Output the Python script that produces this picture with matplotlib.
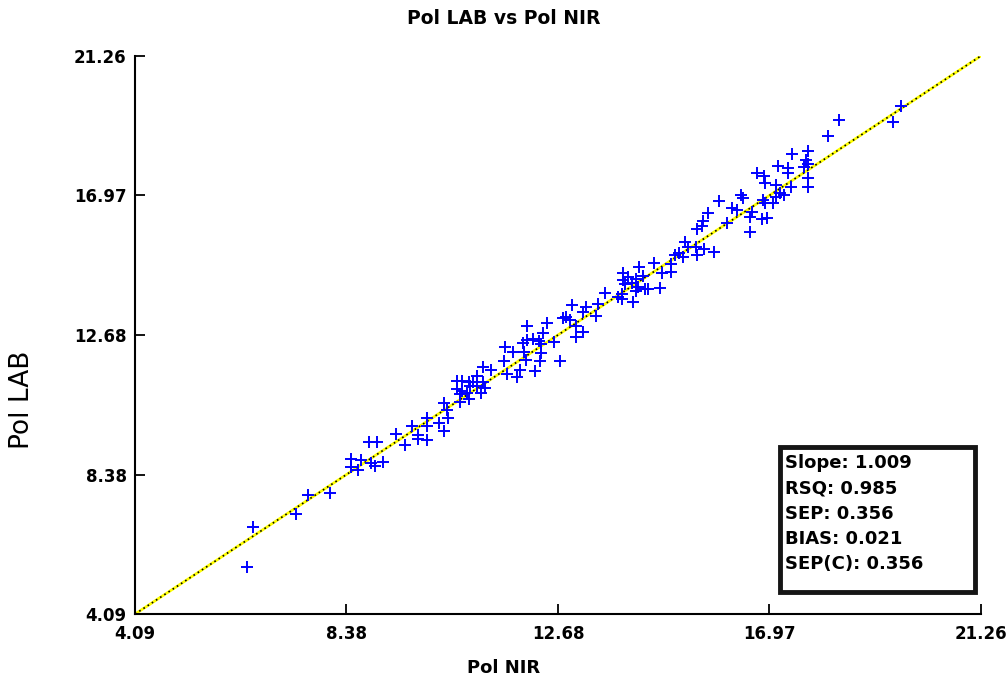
import numpy as np
import matplotlib
matplotlib.use("Agg")
import matplotlib.pyplot as plt
from matplotlib.patches import Rectangle

# Pol NIR (x) vs Pol LAB (y)
pol_nir = [
    6.37, 6.49, 7.36, 7.61, 8.05, 8.47, 8.47, 8.68, 8.62, 8.83, 9.00, 8.89,
    8.96, 9.13, 9.38, 9.57, 9.72, 9.83, 9.83, 10.01, 10.02, 10.27, 10.37,
    12.97, 13.24, 13.19, 13.48, 13.44, 12.83, 12.78, 12.92, 13.04, 13.19,
    13.04, 12.05, 12.46, 12.37, 12.05, 12.17, 12.29, 11.97, 12.34, 12.59,
    11.60, 11.77, 11.99, 12.34, 12.32, 12.72, 12.03, 11.57, 11.15, 11.32,
    11.65, 11.90, 11.85, 12.21, 11.03, 10.62, 10.72, 10.86, 10.96, 11.16,
    10.62, 10.72, 10.89, 11.03, 11.19, 11.11, 10.82, 10.69, 10.86, 10.69,
    10.36, 10.43, 10.45, 10.02,
    15.25, 15.32, 15.48, 15.64, 15.84, 15.50, 15.14, 15.22, 15.05, 14.97,
    14.98, 14.79, 14.62, 14.33, 14.00, 14.10, 14.00, 14.27, 14.41, 14.04,
    14.17, 14.31, 14.44, 14.51, 14.75, 14.26, 13.97, 13.90, 13.97, 13.63,
    14.20,
    17.42, 17.76, 17.72, 17.76, 17.67, 17.15, 17.35, 17.35, 16.71, 16.86,
    16.88, 17.76, 17.76, 17.40, 17.11, 17.18, 17.26, 17.11, 17.05, 16.88,
    16.84, 16.40, 16.44, 15.95, 16.20, 16.31, 15.73, 16.61, 16.57, 16.81,
    16.91, 16.10, 15.62, 15.59, 15.49, 16.57,
    19.65, 18.39, 19.47, 18.16,
]
pol_lab = [
    5.55, 6.76, 7.17, 7.76, 7.80, 8.86, 8.62, 8.83, 8.52, 9.38, 9.38, 8.73,
    8.64, 8.76, 9.63, 9.29, 9.88, 9.60, 9.47, 9.88, 9.44, 9.96, 9.72,
    13.60, 13.53, 13.39, 13.63, 13.26, 13.24, 13.19, 13.14, 12.96, 12.76,
    12.60, 12.95, 13.03, 12.73, 12.52, 12.55, 12.50, 12.42, 12.40, 12.45,
    12.30, 12.16, 12.16, 12.11, 11.88, 11.88, 11.91, 11.88, 11.70, 11.60,
    11.48, 11.60, 11.37, 11.57, 11.41, 11.27, 11.27, 11.24, 11.24, 11.24,
    11.00, 10.96, 11.11, 11.11, 11.04, 10.88, 10.88, 10.86, 10.70, 10.62,
    10.57, 10.37, 10.11, 10.11,
    15.55, 15.39, 15.37, 15.31, 15.24, 15.14, 15.19, 15.08, 15.14, 14.86,
    14.62, 14.57, 14.90, 14.78, 14.57, 14.47, 14.37, 14.39, 14.49, 14.24,
    14.27, 14.16, 14.08, 14.08, 14.13, 14.04, 13.94, 13.84, 13.77, 13.98,
    13.70,
    18.24, 18.35, 18.06, 17.94, 17.85, 17.87, 17.80, 17.65, 17.65, 17.57,
    17.36, 17.50, 17.24, 17.24, 17.29, 17.05, 16.98, 16.91, 16.75, 16.73,
    16.83, 16.98, 16.88, 16.80, 16.57, 16.52, 16.42, 16.47, 16.30, 16.24,
    16.27, 16.11, 16.19, 16.03, 15.93, 15.85,
    19.72, 19.29, 19.24, 18.81,
]

ticks = [4.09, 8.38, 12.68, 16.97, 21.26]
tick_labels = ["4.09", "8.38", "12.68", "16.97", "21.26"]
stats = ["Slope: 1.009", "RSQ: 0.985", "SEP: 0.356", "BIAS: 0.021", "SEP(C): 0.356"]

plt.rcParams['font.family'] = ['DejaVu Sans']

fig = plt.figure(figsize=(10.08, 6.83), dpi=100)
ax = fig.add_axes([0.134, 0.101, 0.839, 0.817])

lo, hi = ticks[0], ticks[-1]
# diagonal: yellow line with black dots on top
ax.plot([lo, hi], [lo, hi], color="#ffff00", lw=2.0, zorder=1)
ax.plot([lo, hi], [lo, hi], color="black", lw=1.2, ls=(0, (1, 2)), zorder=2)

ax.plot(pol_nir, pol_lab, ls="none", marker="+", color="#0000ff",
        markersize=9, mew=1.4, zorder=3)

ax.set_xlim(lo, hi)
ax.set_ylim(lo, hi)
ax.set_xticks(ticks)
ax.set_yticks(ticks)
ax.set_xticklabels(tick_labels, fontsize=12, fontweight="bold")
ax.set_yticklabels(tick_labels, fontsize=12, fontweight="bold")
ax.tick_params(direction="in", length=7, width=1.3, color="black")
ax.tick_params(axis="x", pad=8)
ax.tick_params(axis="y", pad=6)
for s in ["top", "right"]:
    ax.spines[s].set_visible(False)
for s in ["left", "bottom"]:
    ax.spines[s].set_linewidth(1.5)

fig.text(0.5, 1 - 18 / 683, "Pol LAB vs Pol NIR", fontsize=13.5,
         fontweight="bold", ha="center", va="center")
fig.text(0.5, 1 - 668 / 683, "Pol NIR", fontsize=13, fontweight="bold",
         ha="center", va="center")
fig.text(22 / 1008, 1 - 400 / 683, "Pol LAB", fontsize=19, rotation=90,
         ha="center", va="center")

# stats box
ax.add_patch(Rectangle((0.7624, 0.0394), 0.2305, 0.26, transform=ax.transAxes,
                       facecolor="white", edgecolor="#151515", linewidth=3.5,
                       zorder=5))
for i, line in enumerate(stats):
    ax.text(0.769, 0.2706 - i * 0.04525, line, transform=ax.transAxes,
            fontsize=13, fontweight="bold", va="center", ha="left", zorder=6)

fig.savefig("out.png", dpi=100)
